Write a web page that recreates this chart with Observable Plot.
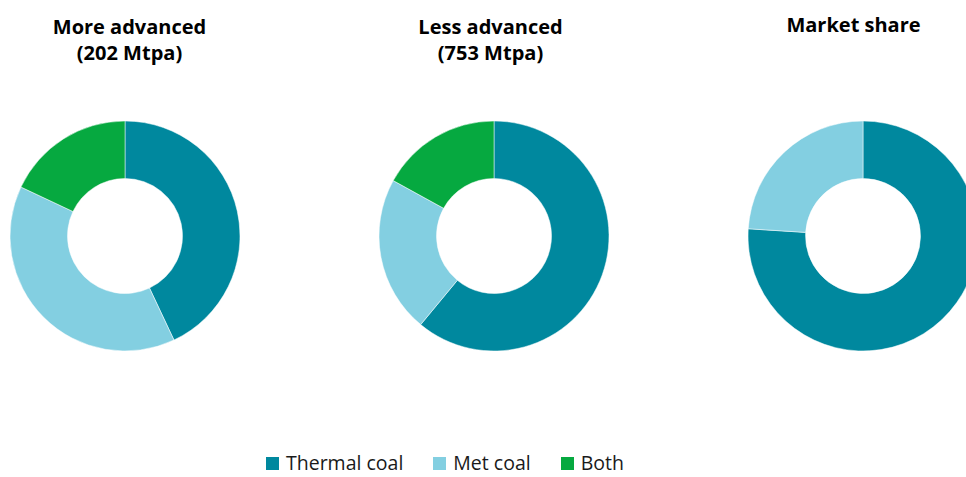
<!DOCTYPE html>
<html>
<head>
<meta charset="utf-8">
<script src="https://cdn.jsdelivr.net/npm/d3@7"></script>
<script src="https://cdn.jsdelivr.net/npm/@observablehq/plot@0.6"></script>
<style>
  body { margin: 0; background: #fff; font-family: "Open Sans", sans-serif; overflow: hidden; }
  #chart svg { display: block; }
  #legend > div { justify-content: flex-start; padding-left: 266px; min-height: 0 !important; height: 18px; line-height: 18px; margin: 0 !important; }
  #legend span { margin-right: 30px !important; line-height: 18px; }
  #legend span:last-child { margin-right: 0 !important; }
  #legend svg { margin-right: 7px !important; }
</style>
</head>
<body>
<div id="chart"></div>
<div id="legend"></div>
<script>
// ---- data ----
const charts = ["More advanced\n(202 Mtpa)", "Less advanced\n(753 Mtpa)", "Market share"];
const categories = ["Thermal coal", "Met coal", "Both"];
const colors = ["#00889e", "#83cfe1", "#06a940"];
const moreAdvanced = [43, 39, 18];
const lessAdvanced = [61, 22, 17];
const marketShare = [76, 24, 0];

const series = [moreAdvanced, lessAdvanced, marketShare];
const slices = charts.flatMap((c, i) =>
  categories.map((cat, j) => ({chart: c, category: cat, value: series[i][j]}))
);

const colorScale = Plot.scale({color: {type: "ordinal", domain: categories, range: colors}});

function donuts(index, scales, values, dimensions) {
  const {marginTop, marginBottom, height} = dimensions;
  const cy = marginTop + (height - marginTop - marginBottom) / 2;
  const pie = d3.pie().sort(null).value(d => d.value);
  const arc = d3.arc().innerRadius(57.5).outerRadius(115);
  const g = d3.create("svg:g");
  for (const c of charts) {
    const arcs = pie(slices.filter(d => d.chart === c)).filter(a => a.data.value > 0);
    g.append("g")
      .attr("transform", `translate(${scales.x(c)},${cy})`)
      .selectAll("path")
      .data(arcs)
      .join("path")
      .attr("d", arc)
      .attr("fill", d => colorScale.apply(d.data.category))
      .attr("stroke", "#fff")
      .attr("stroke-width", 0.5);
  }
  return g.node();
}

const titleStyle = {
  x: d => d,
  text: d => d,
  frameAnchor: "top",
  lineAnchor: "top",
  lineHeight: 1.3,
  fontSize: 20,
  fontWeight: "bold",
  fill: "#000"
};

const chart = Plot.plot({
  width: 966,
  height: 454,
  marginLeft: 124,
  marginRight: 103,
  marginTop: 120,
  marginBottom: 102,
  style: {fontFamily: "'Open Sans', sans-serif", background: "#fff"},
  x: {type: "point", domain: charts, padding: 0, axis: null},
  marks: [
    donuts,
    Plot.text([charts[0]], {...titleStyle, dx: 4, dy: -104.5}),
    Plot.text([charts[1]], {...titleStyle, dx: -4, dy: -104.5}),
    Plot.text([charts[2]], {...titleStyle, dx: -10, dy: -107})
  ]
});
document.getElementById("chart").appendChild(chart);

const legend = Plot.legend({
  color: {type: "ordinal", domain: categories, range: colors},
  legend: "swatches",
  swatchSize: 13,
  style: {fontSize: "19.5px", fontFamily: "'Open Sans', sans-serif", color: "#1a1a1a"}
});
document.getElementById("legend").appendChild(legend);
</script>
</body>
</html>
